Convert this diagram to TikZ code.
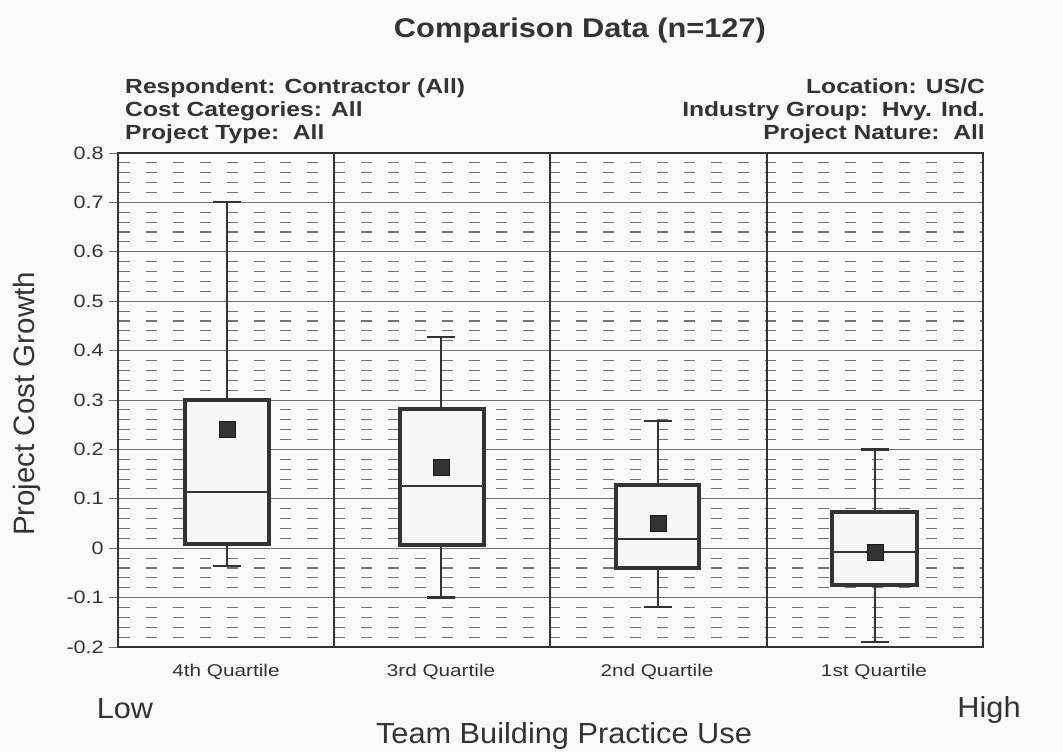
\documentclass[tikz,border=0pt]{standalone}
\usepackage{fontspec}
\setmainfont{Liberation Sans}
\begin{document}
\begin{tikzpicture}[x=1pt,y=-1pt,
  minorgrid/.style={draw=black!55,line width=1.1pt,dash pattern=on 11pt off 15.9pt},
  majorgrid/.style={draw=black!55,line width=0.9pt},
  frame/.style={draw=black!80,line width=1.6pt},
  divider/.style={draw=black!80,line width=1.3pt},
  boxq/.style={draw=black!80,line width=3.8pt,fill=black!3},
  whisk/.style={draw=black!80,line width=2.4pt},
  meanmark/.style={fill=black!80,draw=black!90,line width=0.8pt},
  ticklab/.style={font=\fontsize{18}{20}\selectfont,text=black!80,anchor=east,inner sep=0pt,xscale=1.2},
  catlab/.style={font=\fontsize{17}{19}\selectfont,text=black!80,inner sep=0pt,xscale=1.22},
  hdr/.style={font=\bfseries\fontsize{20.5}{24}\selectfont,text=black!80,inner sep=0pt,xscale=1.2},
  biglab/.style={font=\fontsize{29}{32}\selectfont,text=black!80,inner sep=0pt,xscale=1.06,anchor=base}]
\useasboundingbox (0,0) rectangle (1063,752);
\fill[black!2] (0,0) rectangle (1063,752);

% title and headers
\node[font=\bfseries\fontsize{27}{30}\selectfont,text=black!80,inner sep=0pt,xscale=1.14] (title) at (580,31) {Comparison Data (n=127)};
\node[hdr,anchor=base west] (h1) at (125,93) {Respondent: Contractor (All)};
\node[hdr,anchor=base west] (h2) at (125,116) {Cost Categories: All};
\node[hdr,anchor=base west] (h3) at (125,139) {Project Type:\ \ All};
\node[hdr,anchor=base east] (h4) at (985,93) {Location: US/C};
\node[hdr,anchor=base east] (h5) at (985,116) {Industry Group:\ \ Hvy. Ind.};
\node[hdr,anchor=base east] (h6) at (985,139) {Project Nature:\ \ All};

\begin{scope}[shift={(0,548.2)},y=494pt]
  % minor dashed lines
  \foreach \m in {-2,...,7}{
    \foreach \j in {1,2,3,4}{
      \draw[minorgrid] (119,{\m/10+\j/50}) -- (983,{\m/10+\j/50});
    }
  }
  % major grid lines with ticks
  \foreach \v in {-0.1,0,0.1,0.2,0.3,0.4,0.5,0.6,0.7}{
    \draw[majorgrid] (109,\v) -- (983,\v);
  }
  \foreach \v/\t [count=\i] in {-0.2/-0.2,-0.1/-0.1,0/0,0.1/0.1,0.2/0.2,0.3/0.3,0.4/0.4,0.5/0.5,0.6/0.6,0.7/0.7,0.8/0.8}{
    \node[ticklab] (yl\i) at (104,\v) {\t};
  }
  \draw[majorgrid] (109,0.8) -- (118,0.8);
  \draw[majorgrid] (109,-0.2) -- (118,-0.2);
  % dividers
  \foreach \xx in {334,550,767}{
    \draw[divider] (\xx,-0.2) -- (\xx,0.8);
  }
  \draw[frame] (118,-0.2) rectangle (983,0.8);

  % box plots: cx, left, right, wl, q1, med, q3, wh, mean
  \foreach \cx/\bl/\br/\wl/\qa/\md/\qc/\wh/\mn [count=\i] in {
      227/185/269/-0.036/0.008/0.114/0.300/0.701/0.241,
      441/400/484/-0.100/0.007/0.126/0.282/0.428/0.164,
      658/616/699/-0.119/-0.040/0.019/0.128/0.257/0.051,
      875/832/917/-0.190/-0.074/-0.008/0.073/0.200/-0.008}{
    \coordinate (wt\i) at (\cx,\wh);
    \coordinate (wb\i) at (\cx,\wl);
    \draw[whisk] (wb\i) -- (wt\i);
    \draw[whisk] ([xshift=-14pt]wt\i) -- ([xshift=14pt]wt\i);
    \draw[whisk] ([xshift=-14pt]wb\i) -- ([xshift=14pt]wb\i);
    \draw[boxq] (\bl,\qa) rectangle (\br,\qc);
    \draw[draw=black!80,line width=1.8pt] (\bl,\md) -- (\br,\md);
    \node[meanmark,minimum size=16pt,inner sep=0pt] (mean\i) at (\cx,\mn) {};
  }
\end{scope}

% category labels
\node[catlab] (c4) at (226,672) {4th Quartile};
\node[catlab] (c3) at (441,672) {3rd Quartile};
\node[catlab] (c2) at (657,672) {2nd Quartile};
\node[catlab] (c1) at (874,672) {1st Quartile};

\node[biglab] (low) at (125,718) {Low};
\node[biglab] (high) at (989,717) {High};
\node[biglab] (xtitle) at (564,743) {Team Building Practice Use};
\node[font=\fontsize{29.5}{32}\selectfont,text=black!80,inner sep=0pt,rotate=90] (ytitle) at (27,404) {Project Cost Growth};
\end{tikzpicture}
\end{document}
